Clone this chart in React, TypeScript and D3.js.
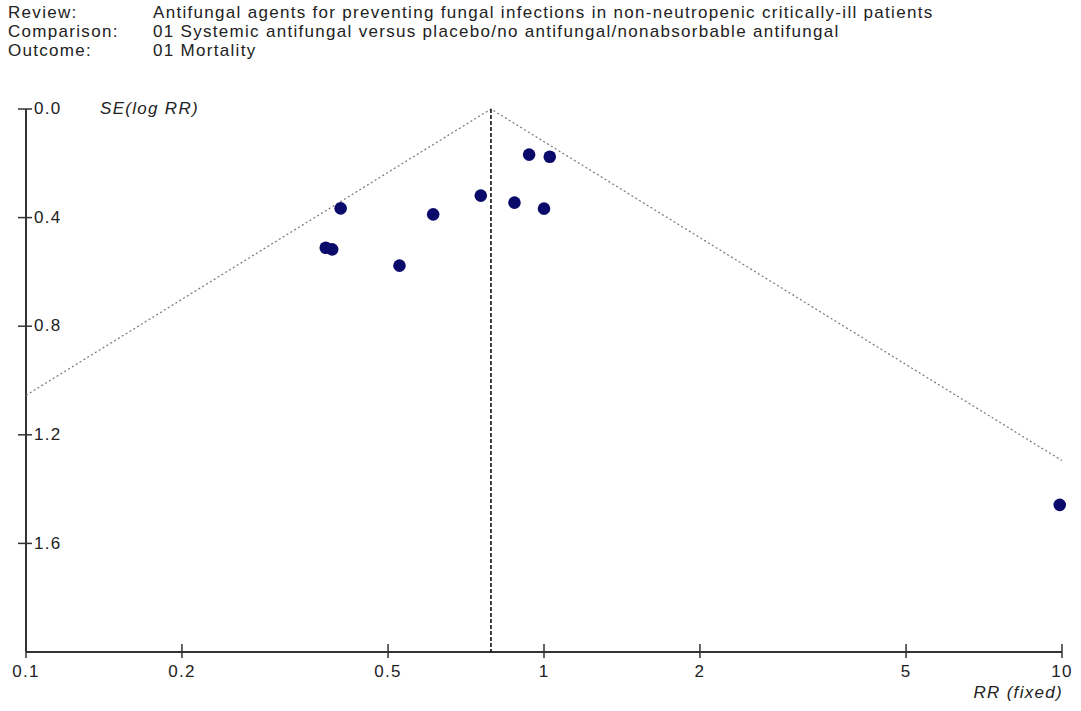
import { useEffect, useRef } from "react";
import * as d3 from "d3";

// header lines
const headerLabels = ["Review:", "Comparison:", "Outcome:"];
const headerTexts = [
  "Antifungal agents for preventing fungal infections in non-neutropenic critically-ill patients",
  "01 Systemic antifungal versus placebo/no antifungal/nonabsorbable antifungal",
  "01 Mortality",
];

// study points: risk ratio and SE(log RR)
const studyRR = [0.405, 0.379, 0.39, 0.526, 0.611, 0.755, 0.877, 0.936, 1.026, 1.0, 9.9];
const studySE = [0.366, 0.511, 0.517, 0.577, 0.388, 0.319, 0.345, 0.168, 0.176, 0.367, 1.458];

const pooledRR = 0.79;
const xTicks = [0.1, 0.2, 0.5, 1, 2, 5, 10];
const yTicks = [0, 0.4, 0.8, 1.2, 1.6];

export default function App() {
  const svgRef = useRef<SVGSVGElement | null>(null);

  useEffect(() => {
    const width = 1081;
    const height = 711;
    const svg = d3.select(svgRef.current);
    svg.selectAll("*").remove();
    svg.attr("width", width).attr("height", height);

    const font = "'Liberation Sans', Arial, sans-serif";
    const fs = 17;
    const ls = "1.3px";

    svg.append("rect").attr("width", width).attr("height", height).attr("fill", "#fff");

    // header
    const head = svg.append("g")
      .style("font-family", font).style("font-size", `${fs}px`).style("letter-spacing", ls)
      .attr("fill", "#222");
    headerLabels.forEach((t, i) => {
      head.append("text").attr("x", 8).attr("y", 18 + i * 19).text(t);
      head.append("text").attr("x", 153).attr("y", 18 + i * 19).text(headerTexts[i]);
    });

    const x = d3.scaleLog().domain([0.1, 10]).range([26, 1062]);
    const y = d3.scaleLinear().domain([0, 2]).range([109, 652]);

    const axisColor = "#333";

    // y axis
    svg.append("line")
      .attr("x1", x(0.1)).attr("x2", x(0.1))
      .attr("y1", y(0)).attr("y2", y(2))
      .attr("stroke", axisColor).attr("stroke-width", 2);
    const yt = svg.append("g").selectAll("g").data(yTicks).join("g")
      .attr("transform", (d) => `translate(${x(0.1)},${y(d)})`);
    yt.append("line").attr("x1", -8).attr("x2", 6).attr("stroke", axisColor).attr("stroke-width", 1.5);
    yt.append("text")
      .attr("x", 8).attr("dy", "0.3em")
      .style("font-family", font).style("font-size", `${fs}px`).style("letter-spacing", ls)
      .attr("fill", "#222")
      .text((d) => d3.format(".1f")(d));

    svg.append("text")
      .attr("x", 100).attr("y", y(0)).attr("dy", "0.3em")
      .style("font-family", font).style("font-size", `${fs}px`).style("font-style", "italic")
      .style("letter-spacing", ls)
      .attr("fill", "#222")
      .text("SE(log RR)");

    // x axis
    svg.append("line")
      .attr("x1", x(0.1)).attr("x2", x(10))
      .attr("y1", y(2)).attr("y2", y(2))
      .attr("stroke", axisColor).attr("stroke-width", 2);
    const xt = svg.append("g").selectAll("g").data(xTicks).join("g")
      .attr("transform", (d) => `translate(${x(d)},${y(2)})`);
    xt.append("line").attr("y1", -8).attr("y2", 6).attr("stroke", axisColor).attr("stroke-width", 1.5);
    xt.append("text")
      .attr("y", 25).attr("text-anchor", "middle")
      .style("font-family", font).style("font-size", `${fs}px`).style("letter-spacing", ls)
      .attr("fill", "#222")
      .text((d) => String(d));

    svg.append("text")
      .attr("x", x(10) + 1).attr("y", 698).attr("text-anchor", "end")
      .style("font-family", font).style("font-size", `${fs}px`).style("font-style", "italic")
      .style("letter-spacing", ls)
      .attr("fill", "#222")
      .text("RR (fixed)");

    // funnel limits (95%)
    const seLeft = Math.log(pooledRR / 0.1) / 1.96;
    const seRight = Math.log(10 / pooledRR) / 1.96;
    const funnel = d3.line<[number, number]>()
      .x((d) => x(d[0]))
      .y((d) => y(d[1]));
    svg.append("path")
      .attr("d", funnel([[0.1, seLeft], [pooledRR, 0], [10, seRight]]))
      .attr("fill", "none")
      .attr("stroke", "#777")
      .attr("stroke-width", 1.2)
      .attr("stroke-dasharray", "2,2.5");

    // pooled estimate
    svg.append("line")
      .attr("x1", x(pooledRR)).attr("x2", x(pooledRR))
      .attr("y1", y(0)).attr("y2", y(2))
      .attr("stroke", "#111").attr("stroke-width", 1.6)
      .attr("stroke-dasharray", "4,2");

    // studies
    svg.append("g").selectAll("circle")
      .data(studyRR.map((rr, i) => ({ rr, se: studySE[i] })))
      .join("circle")
      .attr("cx", (d) => x(d.rr))
      .attr("cy", (d) => y(d.se))
      .attr("r", 6.3)
      .attr("fill", "#0a0a6b");
  }, []);

  return (
    <div style={{ position: "absolute", left: 0, top: 0 }}>
      <svg ref={svgRef}></svg>
    </div>
  );
}
